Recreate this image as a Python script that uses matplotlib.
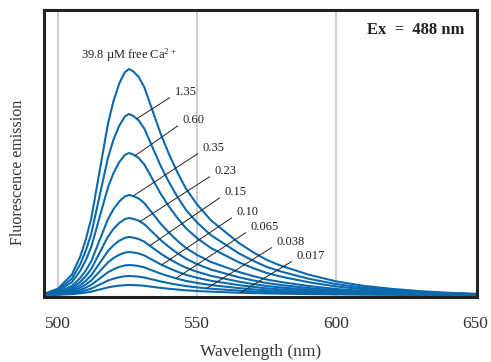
import numpy as np
import matplotlib.pyplot as plt

plt.rcParams['font.family'] = ['Liberation Serif', 'DejaVu Serif']
plt.rcParams['mathtext.fontset'] = 'custom'
plt.rcParams['mathtext.rm'] = 'Liberation Serif'
plt.rcParams['mathtext.default'] = 'regular'

# normalised emission profile
wavelength = [495, 500, 505, 508, 510, 512, 514, 516, 518, 520, 522, 524, 525.5,
              527, 529, 531, 533, 535, 537, 540, 543, 546, 550, 555, 560, 565,
              570, 575, 580, 590, 600, 610, 620, 630, 640, 650.5]
profile = [0.005, 0.028, 0.09, 0.17, 0.245, 0.34, 0.48, 0.62, 0.76, 0.86, 0.935, 0.985, 1.0,
           0.99, 0.965, 0.92, 0.85, 0.78, 0.71, 0.62, 0.54, 0.47, 0.40, 0.33, 0.28, 0.23,
           0.19, 0.155, 0.13, 0.09, 0.06, 0.04, 0.027, 0.017, 0.010, 0.005]

# peak height of each curve (arbitrary units) and its free Ca2+ label
ca_labels = ['39.8', '1.35', '0.60', '0.35', '0.23', '0.15', '0.10', '0.065', '0.038', '0.017']
peaks = [226, 181, 142, 100, 77, 58, 43, 30, 19, 10]

# where each leader line meets its curve, and where its label sits
attach_wl = [None, 528.3, 527.7, 527.0, 529.5, 533.0, 537.3, 542.4, 553.5, 565.5]
label_px = [None, (175, 92), (183, 120), (203, 148), (215, 171), (225, 192),
            (237, 212), (251, 227), (277, 242), (297, 256)]

blue = '#0a6aad'
wl = np.array(wavelength)
prof = np.array(profile)

fig = plt.figure(figsize=(4.91, 3.62), dpi=100)
ax = fig.add_axes([44 / 491, 1 - 297 / 362, 433 / 491, 287 / 362])

for x in [500, 550, 600]:
    ax.axvline(x, color='#b9c4cc', lw=1.1, zorder=0)

for pk in peaks:
    ax.plot(wl, pk * prof, color=blue, lw=1.5, solid_capstyle='round')


def px_to_data(x, y):
    return 500 + (x - 58) / 2.787, 295 - y


for lab, pk, aw, lp in zip(ca_labels, peaks, attach_wl, label_px):
    if aw is None:
        continue
    tx, ty = px_to_data(*lp)
    ax.annotate(lab, xy=(aw, pk * np.interp(aw, wl, prof)), xytext=(tx, ty),
                ha='left', va='center', fontsize=9, color='#222222',
                arrowprops=dict(arrowstyle='-', color='#222222', lw=0.7,
                                shrinkA=2, shrinkB=0, relpos=(0, 0.3)))

tx, ty = px_to_data(129, 55)
ax.text(tx, ty, '39.8 µM free Ca$^{2+}$', ha='center', va='center', fontsize=9, color='#222222')

ax.text(0.97, 0.93, 'Ex  =  488 nm', transform=ax.transAxes, ha='right', va='center',
        fontsize=12, fontweight='bold', color='#222222')

ax.set_xlim(495, 650.5)
ax.set_ylim(-2, 285)
ax.set_xticks([500, 550, 600, 650])
ax.set_yticks([])
ax.tick_params(axis='x', length=0, pad=14, labelsize=12.5, colors='#333333')
for s in ax.spines.values():
    s.set_linewidth(2.2)
    s.set_color('#222222')

ax.set_xlabel('Wavelength (nm)', fontsize=12.5, color='#333333')
ax.xaxis.set_label_coords(0.5, -55 / 287)
ax.xaxis.label.set_va('center')
ax.set_ylabel('Fluorescence emission', fontsize=11.5, color='#333333')
ax.yaxis.set_label_coords(-26 / 433, 125 / 287)
ax.yaxis.label.set_va('center')

fig.savefig('out.png', dpi=100)
